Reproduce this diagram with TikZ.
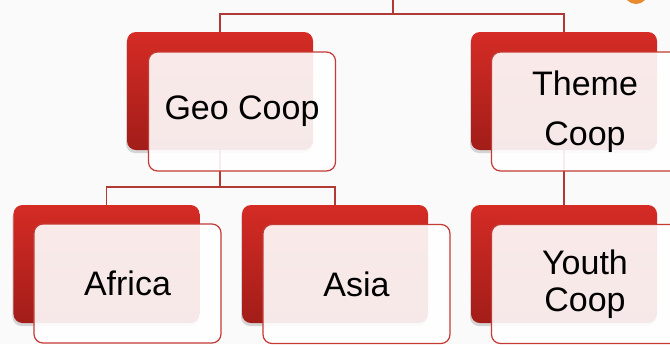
\documentclass[tikz,border=0pt]{standalone}
\usepackage{fontspec}
\setmainfont{Liberation Sans}
\usetikzlibrary{shadows}
\definecolor{bg}{HTML}{FAFAFA}
\definecolor{redtop}{HTML}{D52B25}
\definecolor{redbot}{HTML}{A21D19}
\definecolor{edge}{HTML}{C43A35}
\definecolor{conn}{HTML}{B03B36}
\definecolor{orng}{HTML}{E98A2E}
\tikzset{
  backbox/.style={rounded corners=9bp, minimum width=186bp, minimum height=118bp,
    top color=redtop, bottom color=redbot, draw=none, inner sep=0pt,
    drop shadow={shadow xshift=-1bp, shadow yshift=-3bp, opacity=0.15, fill=black}},
  frontbox/.style={rounded corners=9bp, minimum width=187bp, minimum height=119bp,
    draw=edge, line width=1.2bp, fill=white, fill opacity=0.9, text opacity=1,
    align=center, inner sep=0pt, font=\fontsize{34bp}{50bp}\selectfont},
  link/.style={draw=conn, line width=1.5bp}
}
\begin{document}
\begin{tikzpicture}[x=1bp,y=-1bp]
\useasboundingbox (0,0) rectangle (670,344);
\clip (0,0) rectangle (670,344);
\fill[bg] (0,0) rectangle (670,344);
\fill[orng] (636,-8) circle (12bp);
% back boxes
\node[backbox] (geoB)   at (220,91)    {};
\node[backbox] (themeB) at (564,91)    {};
\node[backbox] (afrB)   at (106.5,264) {};
\node[backbox] (asiaB)  at (335,264)   {};
\node[backbox] (youthB) at (564,264)   {};
% connectors
\coordinate (top) at (393,0);
\draw[link] (top) -- ++(0,14) -| (geoB.north);
\draw[link] (top) -- ++(0,14) -| (themeB.north);
\draw[link] (geoB.south) -- ++(0,37) -| (afrB.north);
\draw[link] (geoB.south) -- ++(0,37) -| (asiaB.north);
\draw[link] (themeB.south) -- (youthB.north);
% front boxes
\node[frontbox] (geo)   at (242,111.5)   {Geo Coop};
\node[frontbox] (theme) at (585,111.5)   {Theme\\Coop};
\node[frontbox] (afr)   at (127.5,283.5) {Africa};
\node[frontbox] (asia)  at (356.5,284)   {Asia};
\node[frontbox, font=\fontsize{34bp}{37bp}\selectfont] (youth) at (585,284) {Youth\\Coop};
\end{tikzpicture}
\end{document}
